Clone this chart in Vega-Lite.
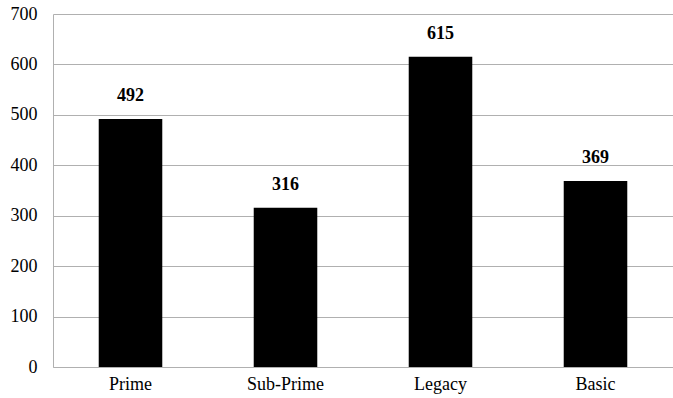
{
  "$schema": "https://vega.github.io/schema/vega-lite/v6.json",
  "width": 620,
  "height": 353,
  "autosize": {"type": "none"},
  "padding": {"left": 53, "top": 14, "right": 0, "bottom": 31},
  "background": "white",
  "config": {
    "view": {"stroke": null},
    "font": "Times New Roman, Liberation Serif, DejaVu Serif, serif"
  },
  "data": {
    "values": [
      {"category": "Prime", "value": 492},
      {"category": "Sub-Prime", "value": 316},
      {"category": "Legacy", "value": 615},
      {"category": "Basic", "value": 369}
    ]
  },
  "encoding": {
    "x": {
      "field": "category",
      "type": "nominal",
      "sort": null,
      "scale": {"paddingInner": 0.59, "paddingOuter": 0.295},
      "axis": {
        "title": null,
        "labelAngle": 0,
        "labelFont": "Times New Roman, Liberation Serif, DejaVu Serif, serif",
        "labelFontSize": 18,
        "labelColor": "#000000",
        "labelPadding": 8,
        "ticks": false,
        "domainColor": "#b0b0b0",
        "domainWidth": 1
      }
    },
    "y": {
      "field": "value",
      "type": "quantitative",
      "scale": {"domain": [0, 700], "nice": false},
      "axis": {
        "title": null,
        "values": [0, 100, 200, 300, 400, 500, 600, 700],
        "labelFont": "Times New Roman, Liberation Serif, DejaVu Serif, serif",
        "labelFontSize": 18,
        "labelColor": "#000000",
        "labelPadding": 16,
        "ticks": false,
        "domainColor": "#b0b0b0",
        "domainWidth": 1,
        "gridColor": "#b0b0b0",
        "gridWidth": 1
      }
    }
  },
  "layer": [
    {"mark": {"type": "bar", "color": "#000000"}},
    {
      "mark": {
        "type": "text",
        "font": "Times New Roman, Liberation Serif, DejaVu Serif, serif",
        "fontSize": 18,
        "fontWeight": "bold",
        "color": "#000000",
        "baseline": "middle",
        "dy": -23
      },
      "encoding": {"text": {"field": "value", "type": "quantitative"}}
    }
  ]
}
